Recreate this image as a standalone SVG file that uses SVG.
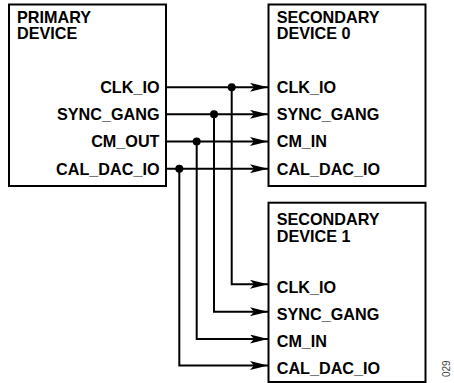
<svg xmlns="http://www.w3.org/2000/svg" width="454" height="383" viewBox="0 0 454 383">
<defs>
<marker id="arr" markerWidth="18" markerHeight="9" refX="18" refY="4.5" orient="auto" markerUnits="userSpaceOnUse">
<path d="M0,0 L18,4.5 L0,9 L4,4.5 Z" fill="#000"/>
</marker>
<style>
.box{fill:#fff;stroke:#000;stroke-width:2}
.t{font-family:"Liberation Sans",Arial,sans-serif;font-weight:bold;font-size:16.2px;fill:#000}
.r{text-anchor:end}
.w{fill:none;stroke:#000;stroke-width:2}
.d{fill:#000}
</style>
</defs>
<rect width="454" height="383" fill="#fff"/>
<g id="primary">
<rect class="box" x="9" y="4.5" width="157" height="181.5"/>
<text class="t" x="17" y="22.7">PRIMARY</text>
<text class="t" x="17" y="39.3">DEVICE</text>
<text class="t r" x="159.5" y="92.7">CLK_IO</text>
<text class="t r" x="159.5" y="120">SYNC_GANG</text>
<text class="t r" x="159.5" y="147.3">CM_OUT</text>
<text class="t r" x="159.5" y="174.7">CAL_DAC_IO</text>
</g>
<g id="secondary0">
<rect class="box" x="268.5" y="4.5" width="157" height="181.5"/>
<text class="t" x="276.7" y="22.7">SECONDARY</text>
<text class="t" x="276.7" y="39.3">DEVICE 0</text>
<text class="t" x="276.7" y="92.7">CLK_IO</text>
<text class="t" x="276.7" y="120">SYNC_GANG</text>
<text class="t" x="276.7" y="147.3">CM_IN</text>
<text class="t" x="276.7" y="174.7">CAL_DAC_IO</text>
</g>
<g id="secondary1">
<rect class="box" x="268.5" y="202.7" width="157" height="179.3"/>
<text class="t" x="276.7" y="225">SECONDARY</text>
<text class="t" x="276.7" y="241.7">DEVICE 1</text>
<text class="t" x="276.7" y="293.3">CLK_IO</text>
<text class="t" x="276.7" y="320">SYNC_GANG</text>
<text class="t" x="276.7" y="347.3">CM_IN</text>
<text class="t" x="276.7" y="374.3">CAL_DAC_IO</text>
</g>
<g id="connectors">
<path class="w" marker-end="url(#arr)" d="M166,87.3 H268"/>
<path class="w" marker-end="url(#arr)" d="M166,114.3 H268"/>
<path class="w" marker-end="url(#arr)" d="M166,141.5 H268"/>
<path class="w" marker-end="url(#arr)" d="M166,168.7 H268"/>
<path class="w" marker-end="url(#arr)" d="M231.7,87.3 V284.3 H268"/>
<path class="w" marker-end="url(#arr)" d="M214,114.3 V311.7 H268"/>
<path class="w" marker-end="url(#arr)" d="M196.7,141.5 V339 H268"/>
<path class="w" marker-end="url(#arr)" d="M179.3,168.7 V365.5 H268"/>
<circle class="d" cx="231.7" cy="87.3" r="4"/>
<circle class="d" cx="214" cy="114.3" r="4"/>
<circle class="d" cx="196.7" cy="141.5" r="4"/>
<circle class="d" cx="179.3" cy="168.7" r="4"/>
</g>
<text x="449.5" y="377" transform="rotate(-90 449.5 377)" font-family="Liberation Sans,Arial,sans-serif" font-size="10" fill="#444">029</text>
</svg>
